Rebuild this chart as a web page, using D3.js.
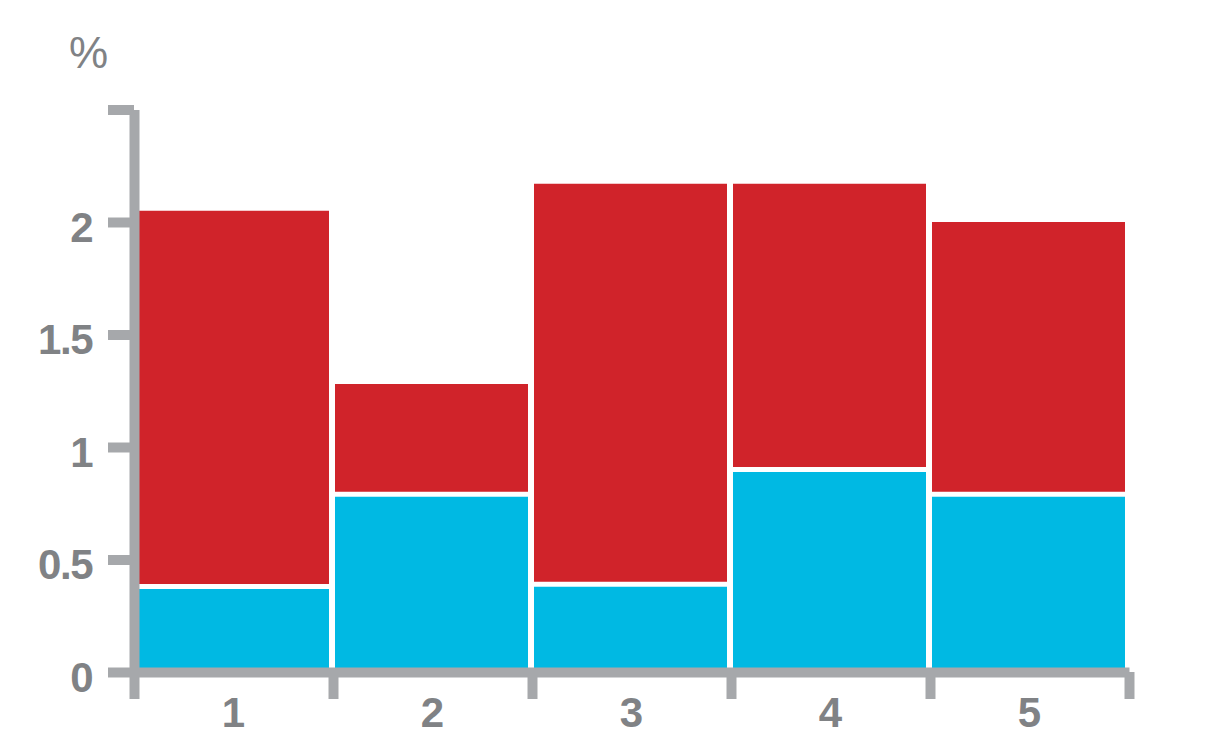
<!DOCTYPE html>
<html>
<head>
<meta charset="utf-8">
<script src="https://cdn.jsdelivr.net/npm/d3@7/dist/d3.min.js"></script>
<style>
  body { margin: 0; background: #fff; }
  text { font-family: "Liberation Sans", Arial, Helvetica, sans-serif; fill: #808285; }
</style>
</head>
<body>
<div id="chart"></div>
<script>
//chart values
var categories = ["1", "2", "3", "4", "5"];
var blueValues = [0.38, 0.79, 0.39, 0.90, 0.79];
var redValues = [1.67, 0.49, 1.78, 1.27, 1.21];
var yTicks = [0, 0.5, 1, 1.5, 2, 2.5];
var yTickLabels = ["0", "0.5", "1", "1.5", "2", ""];
var unitLabel = "%";

//svg dimensions
var svgWidth = 1210;
var svgHeight = 739;

var axisColor = "#a6a8ab";
var colors = { blue: "#00b9e3", red: "#d0232a" };
var gap = 2.5;

var svg = d3.select("#chart")
    .append("svg")
    .attr("width", svgWidth)
    .attr("height", svgHeight);

//build rows for the stack
var rows = categories.map(function(c, i) {
    return { cat: c, index: i, blue: blueValues[i], red: redValues[i] };
});
var series = d3.stack().keys(["blue", "red"])(rows);

//scales: x marks bar boundaries, one unit per category
var x = d3.scaleLinear()
    .domain([0, categories.length])
    .range([134, 1129]);

var y = d3.scaleLinear()
    .domain([0, 2.5])
    .range([672, 109.5]);

//bars
svg.append("g")
    .selectAll("g")
    .data(series)
    .enter()
    .append("g")
    .attr("fill", d => colors[d.key])
    .each(function(s) {
        d3.select(this).selectAll("rect")
            .data(s)
            .enter()
            .append("rect")
            .attr("x", d => x(d.data.index) + 2)
            .attr("width", d => x(d.data.index + 1) - x(d.data.index) - 6)
            .attr("y", function(d) {
                return s.key === "blue" ? y(d[1]) + gap : y(d[1]);
            })
            .attr("height", function(d) {
                var top = s.key === "blue" ? y(d[1]) + gap : y(d[1]);
                var bottom = s.key === "blue" ? y(d[0]) : y(d[0]) - gap;
                return bottom - top;
            });
    });

//x axis: ticks at bar boundaries
var xAxis = svg.append("g")
    .attr("transform", `translate(0, ${y(0)})`)
    .call(d3.axisBottom(x)
        .tickValues(d3.range(categories.length + 1))
        .tickFormat("")
        .tickSize(27)
        .tickSizeOuter(0));

//x labels centred under each bar
svg.append("g")
    .selectAll("text")
    .data(categories)
    .enter()
    .append("text")
    .attr("x", (d, i) => x(i + 0.5))
    .attr("y", y(0) + 55)
    .attr("text-anchor", "middle")
    .attr("font-size", "42px")
    .attr("font-weight", "bold")
    .text(d => d);

//y axis
var yAxis = svg.append("g")
    .attr("transform", `translate(${x(0)}, 0)`)
    .call(d3.axisLeft(y)
        .tickValues(yTicks)
        .tickFormat((d, i) => yTickLabels[i])
        .tickSize(26)
        .tickPadding(16)
        .tickSizeOuter(0));

yAxis.selectAll("text")
    .attr("dy", 19)
    .attr("font-size", "42px")
    .attr("font-weight", "bold")
    .attr("letter-spacing", "-1.5px")
    .attr("fill", "#808285");

//style both axes
svg.selectAll(".domain, .tick line")
    .attr("stroke", axisColor)
    .attr("stroke-width", 10);

//unit label
svg.append("text")
    .attr("x", 69)
    .attr("y", 68)
    .attr("font-size", "44px")
    .text(unitLabel);
</script>
</body>
</html>
